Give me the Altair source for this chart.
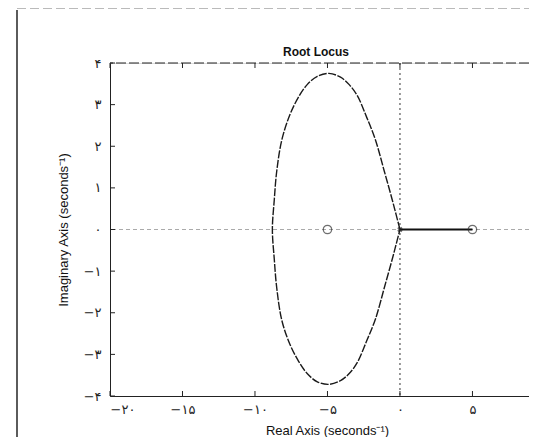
import json
import altair as alt
import pandas as pd

# ---- data ----
x_ticks = [-20, -15, -10, -5, 0, 5]
x_tick_labels = ["−۲۰", "−۱۵", "−۱۰", "−۵", "۰", "۵"]
y_ticks = [-4, -3, -2, -1, 0, 1, 2, 3, 4]
y_tick_labels = ["−۴", "−۳", "−۲", "−۱", "۰", "۱", "۲", "۳", "۴"]
title_text = ["Root Locus"]

locus_x = [0, -0.26, -0.53, -1.08, -1.69, -2.3, -2.95, -3.5, -4.1, -4.9, -5.7, -6.4, -7.0, -7.6, -8.15, -8.5, -8.67, -8.8,
           -8.67, -8.5, -8.15, -7.6, -7.0, -6.4, -5.7, -4.9, -4.1, -3.5, -2.95, -2.3, -1.69, -1.08, -0.53, -0.26, 0]
locus_y = [0, 0.35, 0.71, 1.4, 2.15, 2.7, 3.22, 3.48, 3.66, 3.75, 3.68, 3.48, 3.18, 2.75, 2.15, 1.4, 0.71, 0,
           -0.71, -1.4, -2.18, -2.75, -3.16, -3.46, -3.66, -3.72, -3.63, -3.46, -3.2, -2.68, -2.15, -1.4, -0.71, -0.35, 0]
segment_x = [0, 5]
segment_y = [0, 0]
zeros_x = [-5, 5]
zeros_y = [0, 0]
poles_x = [0]
poles_y = [0]

W, H = 419, 333
xs = alt.Scale(domain=[-20, 8.9], nice=False, zero=False)
ys = alt.Scale(domain=[-4, 4], nice=False, zero=False)

x_expr = f"{json.dumps(x_tick_labels, ensure_ascii=False)}[indexof({json.dumps(x_ticks)}, datum.value)]"
y_expr = f"{json.dumps(y_tick_labels, ensure_ascii=False)}[indexof({json.dumps(y_ticks)}, datum.value)]"

x_axis = alt.Axis(values=x_ticks, labelExpr=x_expr, ticks=False, grid=False, domainColor="#222",
                  labelFont="DejaVu Sans", labelFontSize=13, labelColor="#222", labelPadding=7,
                  title="Real Axis (seconds⁻¹)", titleFont="Liberation Sans", titleFontSize=13,
                  titleFontWeight="normal", titleColor="#111", titleX=217, titlePadding=8)
y_axis = alt.Axis(values=y_ticks, labelExpr=y_expr, ticks=False, grid=False, domainColor="#222",
                  labelFont="DejaVu Sans", labelFontSize=13, labelColor="#222", labelPadding=9,
                  title="Imaginary Axis (seconds⁻¹)", titleFont="Liberation Sans", titleFontSize=13,
                  titleFontWeight="normal", titleColor="#111", titlePadding=13)

X = alt.X("x:Q", scale=xs, axis=x_axis)
Y = alt.Y("y:Q", scale=ys, axis=y_axis)

locus = pd.DataFrame({"x": locus_x, "y": locus_y, "i": list(range(len(locus_x)))})
seg = pd.DataFrame({"x": segment_x, "y": segment_y})
zeros = pd.DataFrame({"x": zeros_x, "y": zeros_y})
poles = pd.DataFrame({"x": poles_x, "y": poles_y})
xt = pd.DataFrame({"x": x_ticks})
yt = pd.DataFrame({"y": y_ticks})
zero_line = pd.DataFrame({"y": [0]})
vert_line = pd.DataFrame({"x": [0]})
title_df = pd.DataFrame({"t": title_text})

real_axis = alt.Chart(zero_line).mark_rule(color="#aaaaaa", strokeDash=[4, 3], strokeWidth=1).encode(y=Y)
imag_axis = alt.Chart(vert_line).mark_rule(color="#555", strokeDash=[2, 3], strokeWidth=1.2).encode(x=X)
top_border = alt.Chart(zero_line).mark_rule(color="#222", strokeDash=[10, 3], strokeWidth=1).encode(
    y=alt.value(0))
locus_line = alt.Chart(locus).mark_line(color="#1a1a1a", strokeWidth=1.4, strokeDash=[8, 1.5],
                                        interpolate="catmull-rom").encode(x=X, y=Y, order="i:Q")
seg_line = alt.Chart(seg).mark_line(color="#111", strokeWidth=2).encode(x=X, y=Y)
zero_pts = alt.Chart(zeros).mark_point(shape="circle", size=70, color="#333", strokeWidth=1.3,
                                       filled=False).encode(x=X, y=Y)
pole_pts = alt.Chart(poles).mark_point(shape="cross", angle=45, size=30, color="#222",
                                       filled=True).encode(x=X, y=Y)
bot_ticks = alt.Chart(xt).mark_rule(color="#222").encode(x=X, y=alt.value(H), y2=alt.value(H - 5))
top_ticks = alt.Chart(xt).mark_rule(color="#222").encode(x=X, y=alt.value(0), y2=alt.value(5))
left_ticks = alt.Chart(yt).mark_rule(color="#222").encode(y=Y, x=alt.value(0), x2=alt.value(5))
frame_left = alt.Chart(zero_line).mark_rule(color="#333", strokeWidth=1.6).encode(
    x=alt.value(-93), y=alt.value(-53), y2=alt.value(H + 60))
frame_top = alt.Chart(zero_line).mark_rule(color="#777", strokeWidth=1, strokeDash=[9, 4]).encode(
    x=alt.value(-93), x2=alt.value(W + 10), y=alt.value(-55))
title_mark = alt.Chart(title_df).mark_text(font="Liberation Sans", fontSize=12, fontWeight="bold",
                                           color="#111", baseline="alphabetic", align="center").encode(
    text="t:N", x=alt.value(206), y=alt.value(-7))

chart = alt.layer(
    real_axis, imag_axis, top_border, locus_line, seg_line, zero_pts, pole_pts,
    bot_ticks, top_ticks, left_ticks, frame_left, frame_top, title_mark
).properties(
    width=W, height=H,
    autosize=alt.AutoSizeParams(type="none"),
    padding={"left": 102, "top": 55, "right": 0, "bottom": 41},
).configure_view(stroke=None).configure(background="white")

chart.save("out.html", embed_options={"renderer": "svg", "actions": False})
